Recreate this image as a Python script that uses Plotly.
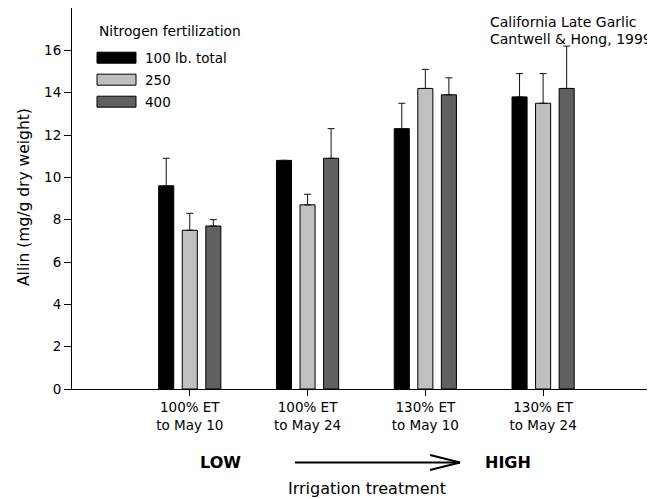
import plotly.graph_objects as go

# ---- data ----
categories = ["100% ET<br>to May 10", "100% ET<br>to May 24",
              "130% ET<br>to May 10", "130% ET<br>to May 24"]
positions = [1, 2, 3, 4]
series_names = ["100 lb. total", "250", "400"]
n100 = [9.6, 10.8, 12.3, 13.8]
n100_err = [1.3, None, 1.2, 1.1]
n250 = [7.5, 8.7, 14.2, 13.5]
n250_err = [0.8, 0.5, 0.9, 1.4]
n400 = [7.7, 10.9, 13.9, 14.2]
n400_err = [0.3, 1.4, 0.8, 2.0]
y_ticks = [0, 2, 4, 6, 8, 10, 12, 14, 16]

colors = ["#000000", "#c0c0c0", "#606060"]
FONT = "DejaVu Sans"

# page has an 8px body margin; figure is sized so it fits the window
OFF = 8
W, H = 655 - OFF, 499 - OFF
L, R, T, B = 72 - OFF, 0, 8 - OFF, 110
PW, PH = W - L - R, H - T - B


def px(x):
    """page pixel x -> paper x"""
    return (x - OFF - L) / PW


def py(y):
    """page pixel y -> paper y"""
    return (H - B - (y - OFF)) / PH


fig = go.Figure()
for name, vals, errs, col in zip(series_names, [n100, n250, n400],
                                 [n100_err, n250_err, n400_err], colors):
    fig.add_trace(go.Bar(
        x=positions, y=vals, name=name,
        marker=dict(color=col, line=dict(color="#000000", width=1)),
        error_y=dict(type="data", symmetric=False, array=errs,
                     arrayminus=[0] * len(errs), color="#111111",
                     thickness=1, width=3.5),
        showlegend=False,
    ))

# dummy trace for right mirrored ticks
fig.add_trace(go.Scatter(x=[None], y=[None], yaxis="y2", showlegend=False,
                         hoverinfo="skip"))

fig.update_layout(
    width=W, height=H,
    margin=dict(l=L, r=R, t=T, b=B, autoexpand=False),
    paper_bgcolor="white", plot_bgcolor="white",
    barmode="group", bargap=0.4, bargroupgap=0.36,
    font=dict(family=FONT, size=13, color="#000000"),
    xaxis=dict(range=[0, 4.95], tickvals=positions, ticktext=categories,
               ticks="outside", ticklen=6, tickcolor="#000000",
               showline=True, linecolor="#000000", linewidth=1,
               mirror=True, showgrid=False, zeroline=False,
               tickfont=dict(family=FONT, size=13.5)),
    yaxis=dict(range=[0, 18], tickvals=y_ticks, ticks="outside", ticklen=7,
               tickcolor="#000000", showline=True, linecolor="#000000",
               linewidth=1, showgrid=False, zeroline=False,
               tickfont=dict(family=FONT, size=13.5)),
    yaxis2=dict(range=[0, 18], tickvals=y_ticks, overlaying="y",
                side="right", ticks="inside", ticklen=3,
                tickcolor="#000000", showticklabels=False, showline=False,
                showgrid=False, zeroline=False),
)

shapes = []
annotations = []

# legend (drawn manually to match the reference swatches)
annotations.append(dict(text="Nitrogen fertilization", x=px(97), y=py(31),
                        xref="paper", yref="paper", xanchor="left",
                        yanchor="middle", showarrow=False,
                        font=dict(family=FONT, size=13.8)))
for i, (name, col) in enumerate(zip(series_names, colors)):
    yc = 57.7 + 22 * i
    shapes.append(dict(type="rect", xref="paper", yref="paper",
                       x0=px(97), x1=px(136), y0=py(yc - 5.5), y1=py(yc + 5.5),
                       fillcolor=col, line=dict(color="#000000", width=1)))
    annotations.append(dict(text=name, x=px(143), y=py(yc), xref="paper",
                            yref="paper", xanchor="left", yanchor="middle",
                            showarrow=False, font=dict(family=FONT, size=13.5)))

# source note
annotations.append(dict(text="California Late Garlic", x=px(488), y=py(22),
                        xref="paper", yref="paper", xanchor="left",
                        yanchor="middle", showarrow=False,
                        font=dict(family=FONT, size=14)))
annotations.append(dict(text="Cantwell &amp; Hong, 1999", x=px(488), y=py(39),
                        xref="paper", yref="paper", xanchor="left",
                        yanchor="middle", showarrow=False,
                        font=dict(family=FONT, size=14)))

# axis titles
annotations.append(dict(text="Allin (mg/g dry weight)", x=px(24), y=py(197),
                        xref="paper", yref="paper", xanchor="center",
                        yanchor="middle", textangle=-90, showarrow=False,
                        font=dict(family=FONT, size=15.5)))
annotations.append(dict(text="Irrigation treatment", x=px(367), y=py(488),
                        xref="paper", yref="paper", xanchor="center",
                        yanchor="middle", showarrow=False,
                        font=dict(family=FONT, size=16)))

# LOW -> HIGH
annotations.append(dict(text="<b>LOW</b>", x=px(220), y=py(462),
                        xref="paper", yref="paper", xanchor="center",
                        yanchor="middle", showarrow=False,
                        font=dict(family=FONT, size=16)))
annotations.append(dict(text="<b>HIGH</b>", x=px(508), y=py(462),
                        xref="paper", yref="paper", xanchor="center",
                        yanchor="middle", showarrow=False,
                        font=dict(family=FONT, size=16)))
arrow_line = dict(color="#000000", width=2)
shapes.append(dict(type="line", xref="paper", yref="paper",
                   x0=px(295), x1=px(460), y0=py(462.5), y1=py(462.5),
                   line=arrow_line))
shapes.append(dict(type="line", xref="paper", yref="paper",
                   x0=px(430), x1=px(460), y0=py(455), y1=py(462.5),
                   line=arrow_line))
shapes.append(dict(type="line", xref="paper", yref="paper",
                   x0=px(430), x1=px(460), y0=py(470), y1=py(462.5),
                   line=arrow_line))

fig.update_layout(shapes=shapes, annotations=annotations)
fig.write_html("out.html")
